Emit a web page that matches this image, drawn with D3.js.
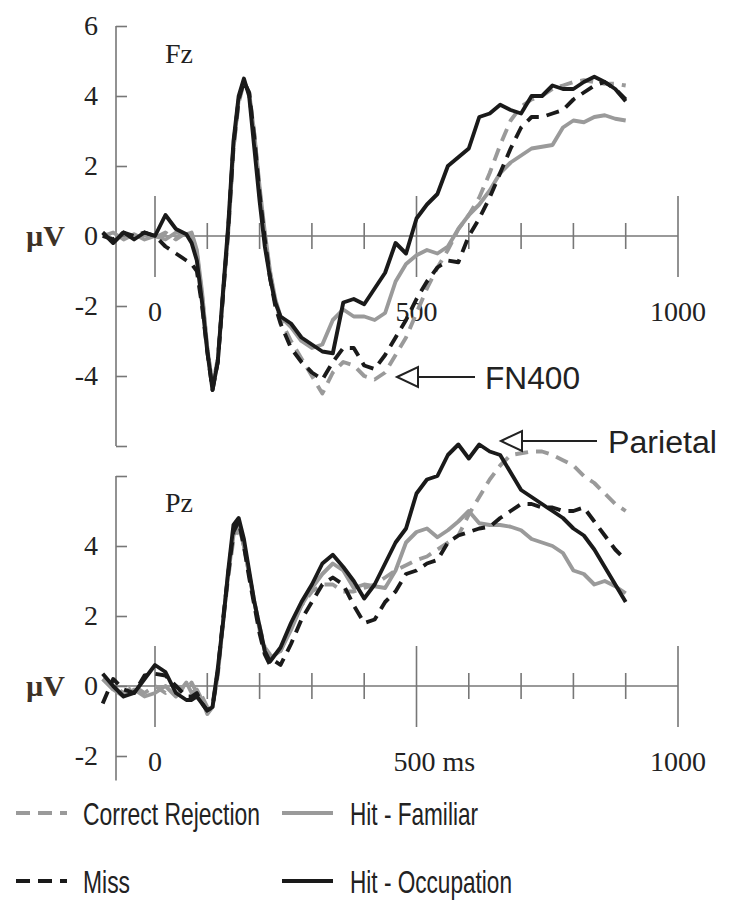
<!DOCTYPE html>
<html><head><meta charset="utf-8">
<script src="https://cdn.jsdelivr.net/npm/d3@7"></script>
<style>body{margin:0;background:#fff}</style>
</head><body>
<svg id="chart" width="750" height="912"></svg>
<script>
const times = [-100,-80,-60,-40,-20,0,20,40,60,70,80,90,100,110,120,130,140,150,160,170,180,190,200,210,220,230,240,260,280,300,320,340,360,380,400,420,440,460,480,500,520,540,560,580,600,620,640,660,680,700,720,740,760,780,800,820,840,860,880,900];

// Fz
const fzCorrectRejection = [0.1,-0.1,0.1,-0.1,0.1,-0.05,0.1,-0.1,0.1,0.05,-0.5,-1.7,-3.2,-4.3,-3.5,-1.7,0.1,2.5,3.8,4.4,4.1,2.9,1.3,0.0,-1.1,-1.9,-2.4,-3.0,-3.5,-4.0,-4.5,-3.9,-3.6,-3.7,-4.0,-4.1,-3.9,-3.4,-2.9,-2.2,-1.5,-0.9,-0.4,0.2,0.6,1.1,1.8,2.6,3.3,3.7,3.9,4.0,4.2,4.3,4.4,4.45,4.4,4.35,4.35,4.3];
const fzHitFamiliar = [0.0,0.1,-0.1,0.05,-0.1,0.0,-0.1,0.1,0.05,0.1,-0.4,-1.6,-3.2,-4.3,-3.6,-1.7,0.1,2.5,3.9,4.4,4.1,2.9,1.4,0.1,-1.0,-1.8,-2.3,-2.6,-3.0,-3.2,-3.1,-2.4,-2.1,-2.3,-2.3,-2.4,-2.2,-1.3,-0.8,-0.55,-0.4,-0.5,-0.3,0.2,0.6,0.9,1.3,1.8,2.1,2.3,2.5,2.55,2.6,3.1,3.3,3.25,3.4,3.45,3.35,3.3];
const fzMiss = [0.0,-0.1,0.1,0.0,0.1,0.0,-0.3,-0.5,-0.7,-0.8,-1.0,-2.0,-3.3,-4.4,-3.6,-1.7,0.2,2.6,3.9,4.4,4.1,2.8,1.2,-0.1,-1.2,-2.0,-2.5,-3.2,-3.6,-3.9,-4.1,-3.6,-3.2,-3.2,-3.7,-3.8,-3.4,-2.9,-2.4,-1.8,-1.3,-0.9,-0.7,-0.75,0.0,0.5,1.1,1.8,2.5,3.1,3.4,3.4,3.5,3.6,3.9,4.1,4.3,4.4,4.2,3.9];
const fzHitOccupation = [0.1,-0.2,0.1,-0.1,0.1,0.0,0.6,0.2,0.05,-0.2,-0.7,-1.9,-3.3,-4.4,-3.6,-1.6,0.3,2.7,4.0,4.5,4.0,2.5,1.0,-0.3,-1.2,-1.9,-2.3,-2.5,-2.9,-3.1,-3.3,-3.35,-1.9,-1.8,-1.95,-1.5,-1.05,-0.2,-0.5,0.5,0.9,1.2,2.0,2.25,2.5,3.4,3.5,3.75,3.6,3.5,4.0,4.0,4.3,4.2,4.2,4.4,4.55,4.4,4.2,3.85];

// Pz
const pzCorrectRejection = [0.2,0.0,-0.2,0.0,-0.2,0.0,-0.2,0.0,-0.1,0.1,-0.2,-0.3,-0.6,-0.5,0.4,1.8,3.1,4.2,4.5,4.0,3.2,2.4,1.7,1.1,0.9,1.0,1.0,1.7,2.3,2.7,2.9,2.9,2.7,2.7,2.8,2.9,3.1,3.3,3.45,3.6,3.7,3.9,4.1,4.3,4.9,5.4,5.9,6.3,6.6,6.65,6.7,6.7,6.6,6.45,6.3,6.0,5.8,5.5,5.2,5.0];
const pzHitFamiliar = [0.2,-0.1,-0.3,-0.1,-0.3,-0.2,0.0,-0.3,0.1,-0.2,-0.1,-0.4,-0.8,-0.6,0.3,1.8,3.2,4.3,4.6,4.0,3.2,2.4,1.6,1.0,0.8,0.9,1.0,1.6,2.3,2.8,3.2,3.5,3.3,2.8,2.9,2.85,2.8,3.3,4.1,4.4,4.5,4.25,4.45,4.7,5.0,4.65,4.6,4.6,4.55,4.45,4.2,4.1,4.0,3.8,3.3,3.2,2.9,3.0,2.85,2.65];
const pzMiss = [-0.5,0.2,-0.1,-0.2,0.3,0.35,0.3,0.0,-0.3,-0.3,-0.2,-0.5,-0.7,-0.6,0.4,1.9,3.2,4.4,4.7,4.0,3.1,2.3,1.5,0.9,0.6,0.7,0.6,1.2,1.9,2.4,2.9,3.1,2.9,2.3,1.8,1.9,2.4,2.7,3.2,3.3,3.5,3.6,4.1,4.3,4.4,4.5,4.55,4.8,5.0,5.2,5.2,5.1,5.1,5.0,5.0,5.1,4.7,4.3,3.9,3.6];
const pzHitOccupation = [0.35,0.0,-0.3,-0.2,0.2,0.6,0.4,-0.2,-0.4,-0.4,-0.3,-0.5,-0.7,-0.6,0.5,1.8,3.3,4.6,4.8,4.2,3.3,2.4,1.7,1.0,0.7,0.9,1.1,1.8,2.4,2.9,3.5,3.75,3.4,3.0,2.5,2.9,3.5,4.1,4.5,5.5,5.9,6.0,6.6,6.9,6.5,6.9,6.7,6.6,6.1,5.6,5.4,5.2,5.0,4.8,4.5,4.3,3.9,3.4,2.9,2.4];

const seriesNames = ["Correct Rejection","Hit - Familiar","Miss","Hit - Occupation"];
const xTickValues = [0,100,200,300,400,500,600,700,800,900,1000];
const xMajorTicks = [0,500,1000];
const fzYTicks = [-6,-4,-2,0,2,4,6];
const fzYLabels = ["","-4","-2","0","2","4","6"];
const pzYTicks = [-2,0,2,4,6];
const pzYLabels = ["-2","0","2","4",""];
const fzXLabels = ["0","500","1000"];
const pzXLabels = ["0","500 ms","1000"];
const panelNames = ["Fz","Pz"];
const annotations = ["FN400","Parietal"];

// style per series, same order as seriesNames
const seriesColor = ["#9a9a9a","#9a9a9a","#1a1a1a","#1a1a1a"];
const seriesDash = ["13,8",null,"13,8",null];
const drawOrder = [1,0,2,3];

const svg = d3.select("#chart");
svg.append("rect").attr("width",750).attr("height",912).attr("fill","#fff");

const x = d3.scaleLinear().domain([0,1000]).range([155,678]);
const yFz = d3.scaleLinear().domain([-6,6]).range([446,26]);
const yPz = d3.scaleLinear().domain([-2,6]).range([756,476]);
const axisX = 116;
const serif = "'Liberation Serif','Times New Roman',serif";
const sans = "'Liberation Sans',Arial,sans-serif";

function panel(y, yTicks, yLabels, yBottom, xLabels, name, nameY, data, labelY) {
  const g = svg.append("g");
  g.append("line").attr("x1",axisX).attr("x2",axisX)
    .attr("y1",y(yTicks[yTicks.length-1])).attr("y2",y(yBottom))
    .attr("stroke","#777").attr("stroke-width",1.6);
  const ax = d3.axisLeft(y).tickValues(yTicks).tickSize(-11).tickPadding(18)
    .tickFormat((d,i)=>yLabels[i]);
  const ag = g.append("g").attr("transform",`translate(${axisX},0)`).call(ax);
  ag.select(".domain").remove();
  ag.selectAll(".tick line").attr("stroke","#777").attr("stroke-width",1.6);
  ag.selectAll(".tick text").attr("font-family",serif).attr("font-size",28).attr("fill","#222");
  g.append("text").attr("x",26).attr("y",y(0)).attr("dy","0.32em")
    .attr("font-family",serif).attr("font-weight","bold").attr("font-size",30)
    .attr("fill","#3e3226").text("µV");
  const y0 = y(0);
  g.append("line").attr("x1",axisX).attr("x2",x(1000)).attr("y1",y0).attr("y2",y0)
    .attr("stroke","#777").attr("stroke-width",1.6);
  g.selectAll(".xt").data(xTickValues).enter().append("line")
    .attr("x1",d=>x(d)).attr("x2",d=>x(d))
    .attr("y1",d=>y0-(xMajorTicks.includes(d)?40:13))
    .attr("y2",d=>y0+(xMajorTicks.includes(d)?41:13))
    .attr("stroke","#777").attr("stroke-width",1.6);
  g.selectAll(".xl").data(xMajorTicks).enter().append("text")
    .attr("x",(d,i)=> (xLabels[i].indexOf("ms")>=0 ? x(d)-23 : x(d)))
    .attr("y",labelY)
    .attr("text-anchor",(d,i)=> xLabels[i].indexOf("ms")>=0 ? "start" : "middle")
    .attr("font-family",serif).attr("font-size",28).attr("fill","#222")
    .text((d,i)=>xLabels[i]);
  g.append("text").attr("x",165).attr("y",nameY).attr("font-family",serif)
    .attr("font-size",28).attr("fill","#222").text(name);
  const line = d3.line().x((d,i)=>x(times[i])).y(d=>y(d));
  drawOrder.forEach(k=>{
    g.append("path").datum(data[k]).attr("d",line).attr("fill","none")
      .attr("stroke",seriesColor[k]).attr("stroke-width",3.9)
      .attr("stroke-linejoin","round")
      .attr("stroke-dasharray",seriesDash[k]);
  });
}

panel(yFz, fzYTicks, fzYLabels, -6, fzXLabels, panelNames[0], 63,
  [fzCorrectRejection, fzHitFamiliar, fzMiss, fzHitOccupation], 321);
panel(yPz, pzYTicks, pzYLabels, -2.7, pzXLabels, panelNames[1], 512,
  [pzCorrectRejection, pzHitFamiliar, pzMiss, pzHitOccupation], 771);

function arrow(tipX, yy, lineEnd, label, labelX, tl) {
  const g = svg.append("g");
  g.append("line").attr("x1",tipX+21).attr("x2",lineEnd).attr("y1",yy).attr("y2",yy)
    .attr("stroke","#222").attr("stroke-width",2);
  g.append("path").attr("d",`M${tipX},${yy} L${tipX+21},${yy-10} L${tipX+21},${yy+10} Z`)
    .attr("fill","#fff").attr("stroke","#222").attr("stroke-width",2);
  g.append("text").attr("x",labelX).attr("y",yy+12).attr("font-family",sans)
    .attr("font-size",31).attr("fill","#222")
    .attr("textLength",tl).attr("lengthAdjust","spacingAndGlyphs").text(label);
}
arrow(397, 377, 475, annotations[0], 485, 95);
arrow(501, 441, 597, annotations[1], 608, 109);

const legPos = [[16,83,813,177],[282,350,813,128],[16,83,881,47],[282,350,881,162]];
seriesNames.forEach((n,i)=>{
  const p = legPos[i];
  svg.append("line").attr("x1",p[0]).attr("x2",p[0]+51).attr("y1",p[2]).attr("y2",p[2])
    .attr("stroke",seriesColor[i]).attr("stroke-width",4)
    .attr("stroke-dasharray",seriesDash[i] ? "14,8" : null);
  svg.append("text").attr("x",p[1]).attr("y",p[2]+12).attr("font-family",sans)
    .attr("font-size",32).attr("fill","#222")
    .attr("textLength",p[3]).attr("lengthAdjust","spacingAndGlyphs").text(n);
});
</script>
</body></html>
